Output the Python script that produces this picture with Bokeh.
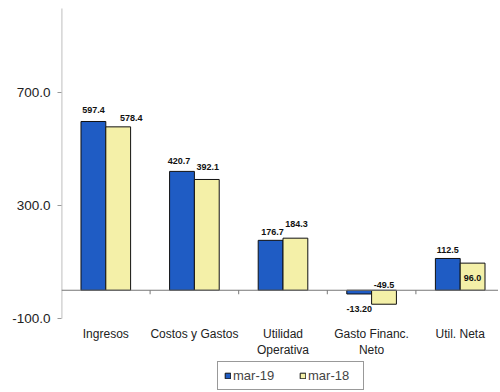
from bokeh.plotting import figure
from bokeh.models import (ColumnDataSource, Range1d, FixedTicker, NumeralTickFormatter,
                          Legend, LegendItem)
from bokeh.core.properties import value
from bokeh.embed import file_html
from bokeh.resources import INLINE

# ---- data ----
categories = ["Ingresos", "Costos y Gastos", "Utilidad\nOperativa", "Gasto Financ.\nNeto", "Util. Neta"]
mar19 = [597.4, 420.7, 176.7, -13.2, 112.5]
mar18 = [578.4, 392.1, 184.3, -49.5, 96.0]
mar19_labels = ["597.4", "420.7", "176.7", "-13.20", "112.5"]
mar18_labels = ["578.4", "392.1", "184.3", "-49.5", "96.0"]
y_ticks = [-100, 300, 700]
y_min_axis = -100

# ---- style / geometry (pixels) ----
BLUE = "#1F5CC4"
YELLOW = "#F4F0A8"
FONT = "Liberation Sans"
W, H = 498, 390
LEFT = 61
px_per_unit = 113 / 400.0
axis_bottom_px = 318      # where the value axis ends (-100)
axis_top_px = 8           # where the value axis line starts
bar_w = 0.28
cat_px = 88.6
frame_w = W - LEFT

y_lo = y_min_axis - (H - axis_bottom_px) / px_per_unit
y_hi = y_min_axis + axis_bottom_px / px_per_unit
axis_top_val = y_min_axis + (axis_bottom_px - axis_top_px) / px_per_unit

# label offsets in pixels (style)
b_dx = [0, -3, 2, 0, 0]
b_dy = [-8, -7, -5, 15, -5]
b_base = ["bottom", "bottom", "bottom", "middle", "bottom"]
y_dx = [13, 1, 1, 0, 0]
y_dy = [-6, -9, -11, -2, 12]
y_base = ["bottom", "bottom", "bottom", "bottom", "top"]

n = len(categories)
centers = [i + 0.5 for i in range(n)]

p = figure(width=W, height=H, output_backend="svg", toolbar_location=None,
           x_range=Range1d(0, frame_w / cat_px), y_range=Range1d(y_lo, y_hi),
           min_border_left=LEFT, min_border_top=0, min_border_bottom=0, min_border_right=0)
p.outline_line_color = None
p.xgrid.visible = False
p.ygrid.visible = False
p.xaxis.visible = False
p.background_fill_color = "white"

src19 = ColumnDataSource(dict(x=[c - bar_w / 2 for c in centers], top=mar19))
src18 = ColumnDataSource(dict(x=[c + bar_w / 2 for c in centers], top=mar18))

r19 = p.vbar(x="x", top="top", bottom=0, width=bar_w, source=src19,
             fill_color=BLUE, line_color="#111111", line_width=1)
r18 = p.vbar(x="x", top="top", bottom=0, width=bar_w, source=src18,
             fill_color=YELLOW, line_color="#111111", line_width=1)

# value axis line (only over the value range)
p.segment(x0=[0.003], y0=[y_min_axis], x1=[0.003], y1=[axis_top_val],
          line_color="#999999", line_width=1)

# zero line & category ticks
p.segment(x0=[0], y0=[0], x1=[frame_w / cat_px], y1=[0], line_color="#777777", line_width=1)
p.segment(x0=list(range(1, n)), y0=[0] * (n - 1), x1=list(range(1, n)), y1=[-4 / px_per_unit] * (n - 1),
          line_color="#777777", line_width=1)

# value labels
lab19 = ColumnDataSource(dict(x=src19.data["x"], y=mar19, t=mar19_labels,
                              dx=b_dx, dy=b_dy, base=b_base))
p.text(x="x", y="y", text="t", x_offset="dx", y_offset="dy", source=lab19,
       text_font=value(FONT), text_font_size="9px", text_font_style="bold",
       text_align="center", text_baseline="base", text_color="#111111")

lab18_y = [max(v, 0) for v in mar18]  # negative label drawn above zero line
lab18 = ColumnDataSource(dict(x=src18.data["x"], y=lab18_y, t=mar18_labels,
                              dx=y_dx, dy=y_dy, base=y_base))
p.text(x="x", y="y", text="t", x_offset="dx", y_offset="dy", source=lab18,
       text_font=value(FONT), text_font_size="9px", text_font_style="bold",
       text_align="center", text_baseline="base", text_color="#111111")

# category labels
p.text(x=centers, y=[y_min_axis] * n, text=categories, y_offset=8,
       text_font=value(FONT), text_font_size="12px", text_align="center",
       text_baseline="top", text_color="#222222", text_line_height=1.2)

# y axis
ya = p.yaxis[0]
ya.ticker = FixedTicker(ticks=y_ticks)
ya.formatter = NumeralTickFormatter(format="0.0")
ya.axis_line_color = None
ya.major_tick_line_color = "#999999"
ya.major_tick_in = 0
ya.major_tick_out = 4
ya.minor_tick_line_color = None
ya.major_label_text_font = FONT
ya.major_label_text_font_size = "13.5px"
ya.major_label_text_color = "#222222"
ya.major_label_standoff = 7

legend = Legend(items=[LegendItem(label="mar-19", renderers=[r19]),
                       LegendItem(label="mar-18", renderers=[r18])],
                orientation="horizontal", location=(156, 0),
                glyph_width=7, glyph_height=7, label_text_font=FONT,
                label_text_font_size="13px", label_height=14, label_width=49,
                label_standoff=2, spacing=17, padding=6, margin=0,
                border_line_color="#333333", border_line_width=1,
                background_fill_color="white", background_fill_alpha=1)
p.add_layout(legend, "center")

open("out.html", "w").write(file_html(p, INLINE))
